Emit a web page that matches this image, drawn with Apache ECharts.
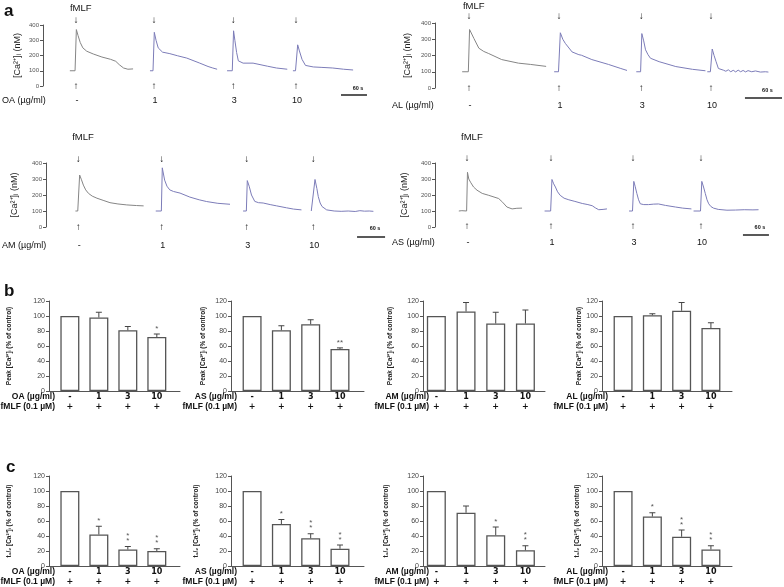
<!DOCTYPE html>
<html>
<head>
<meta charset="utf-8">
<script src="https://cdn.jsdelivr.net/npm/echarts@6/dist/echarts.min.js"></script>
<style>
html, body { margin: 0; padding: 0; background: #fff; }
#chart { width: 784px; height: 587px; }
</style>
</head>
<body>
<div id="chart"></div>
<script>
// ---- panel a: [Ca2+]i traces, [seconds after fMLF, nM] ----
var doses = ['-', '1', '3', '10'];
var traceNames = ['OA (µg/ml)', 'AL (µg/ml)', 'AM (µg/ml)', 'AS (µg/ml)'];

// fMLF injection time (s) of each trace on its panel time axis
var injOA = [76, 256, 439, 584];
var injAL = [55, 201, 334, 447];
var injAM = [69, 248, 430, 572];
var injAS = [74, 268, 457, 614];
// start (s) of the 60 s scale bar
var scaleStart = [688, 502, 666, 711];

var oa0 = [[-14,100],[-2,100],[1,370],[5,330],[10,285],[16,250],[25,228],[40,210],[60,190],[80,175],[92,162],[100,140],[110,118],[120,110],[132,112]];
var oa1 = [[-9,100],[-2,100],[1,352],[5,300],[10,250],[20,222],[37,212],[55,198],[76,183],[106,150],[125,128],[136,118],[146,110]];
var oa3 = [[-14,100],[-2,100],[1,362],[4,300],[8,220],[12,165],[23,150],[46,150],[79,130],[100,118],[125,110]];
var oa10 = [[-7,100],[-1,100],[4,270],[8,230],[14,175],[22,135],[40,125],[60,122],[85,118],[110,110],[132,105]];

var al0 = [[-11,100],[-1,100],[1,360],[8,305],[16,245],[24,225],[32,212],[53,175],[80,153],[100,145],[125,133]];
var al1 = [[-8,100],[-1,100],[2,340],[6,300],[10,275],[21,222],[32,205],[34,214],[36,202],[53,175],[80,145],[100,120],[110,108]];
var al3 = [[-8,100],[-1,100],[1,335],[4,290],[7,235],[11,205],[15,183],[29,162],[56,132],[83,115],[104,106]];
var al10 = [[-6,100],[-1,100],[2,240],[5,200],[8,165],[12,120],[15,108],[20,110],[24,103],[28,112],[32,100],[36,109],[40,99],[44,110],[48,100],[52,108],[56,99],[60,107],[66,100],[72,105],[80,98],[88,100],[93,98]];

var am0 = [[-6,100],[-1,100],[3,325],[7,295],[11,262],[16,232],[22,210],[30,193],[40,180],[55,165],[68,152],[85,144],[104,138],[125,134],[140,132]];
var am1 = [[-13,100],[-1,100],[1,370],[6,293],[11,255],[17,232],[25,222],[39,212],[60,187],[80,170],[96,159],[120,148],[146,142]];
var am3 = [[-8,100],[-1,100],[1,290],[5,255],[10,200],[17,160],[25,152],[35,150],[50,140],[64,132],[85,120],[100,112],[117,107]];
var am10 = [[-4,100],[0,100],[4,297],[8,240],[11,190],[15,150],[19,128],[29,107],[45,100],[60,98],[75,100],[90,97],[100,102],[110,99],[120,100],[129,98]];

var as0 = [[-19,100],[-12,102],[-1,100],[1,342],[4,300],[8,280],[15,250],[23,230],[35,210],[50,198],[73,178],[82,155],[92,125],[104,113],[115,117],[127,118]];
var as1 = [[-15,100],[-1,100],[2,297],[6,270],[10,250],[15,220],[21,198],[30,180],[41,170],[55,160],[72,147],[85,140],[95,133],[102,120],[110,108],[120,110],[129,113]];
var as3 = [[-9,100],[-1,100],[2,285],[5,255],[9,210],[13,170],[17,145],[25,140],[36,140],[48,143],[59,144],[75,135],[98,125],[115,118],[135,113]];
var as10 = [[-17,100],[-1,100],[2,285],[6,250],[10,210],[14,170],[18,145],[23,128],[29,118],[40,110],[60,105],[80,106],[100,108],[120,107],[133,108]];

// ---- panel b: peak [Ca2+]i (% of control), mean and SEM ----
var peakOA = [100, 98, 81, 72],   peakOAsem = [0, 7, 5, 4],   peakOAstar = ['', '', '', '*'];
var peakAS = [100, 81, 89, 56],   peakASsem = [0, 6, 6, 1.5], peakASstar = ['', '', '', '**'];
var peakAM = [100, 106, 90, 90],  peakAMsem = [0, 12, 15, 18], peakAMstar = ['', '', '', ''];
var peakAL = [100, 101, 107, 84], peakALsem = [0, 2, 11, 7],  peakALstar = ['', '', '', ''];

// ---- panel c: t1/2 [Ca2+]i (% of control) ----
var halfOA = [100, 42, 22, 20], halfOAsem = [0, 11, 4, 3],   halfOAstar = ['', '*', '**', '**'];
var halfAS = [100, 56, 37, 23], halfASsem = [0, 6, 6, 5],    halfASstar = ['', '*', '**', '**'];
var halfAM = [100, 71, 41, 21], halfAMsem = [0, 9, 11, 6],   halfAMstar = ['', '', '*', '**'];
var halfAL = [100, 66, 39, 22], halfALsem = [0, 5, 9, 5],    halfALstar = ['', '*', '**', '**'];

var FONT = 'Liberation Sans, Arial, sans-serif';
var BOLD = 'DejaVu Sans, Liberation Sans, sans-serif';

var chart = echarts.init(document.getElementById('chart'));

var traceSets = [
  { inj: injOA, lines: [oa0, oa1, oa3, oa10] },
  { inj: injAL, lines: [al0, al1, al3, al10] },
  { inj: injAM, lines: [am0, am1, am3, am10] },
  { inj: injAS, lines: [as0, as1, as3, as10] }
];
var traceLayout = [
  { left: 43,  top: 25,  height: 61, width: 340, max: 785, gap: 21, nameX: 2,   downY: 20,  upY: 86,  labY: 101, fmlfY: 8,   barY: 95,  sbY: 88 },
  { left: 435, top: 23,  height: 65, width: 347, max: 562, gap: 23, nameX: 392, downY: 16,  upY: 88,  labY: 106, fmlfY: 6,   barY: 98,  sbY: 90 },
  { left: 46,  top: 163, height: 64, width: 340, max: 728, gap: 27, nameX: 2,   downY: 159, upY: 227, labY: 246, fmlfY: 137, barY: 237, sbY: 228 },
  { left: 435, top: 163, height: 64, width: 340, max: 785, gap: 26, nameX: 392, downY: 158, upY: 226, labY: 243, fmlfY: 137, barY: 235, sbY: 227 }
];

var barSets = [
  { v: peakOA, e: peakOAsem, s: peakOAstar, drug: 'OA (µg/ml)' },
  { v: peakAS, e: peakASsem, s: peakASstar, drug: 'AS (µg/ml)' },
  { v: peakAM, e: peakAMsem, s: peakAMstar, drug: 'AM (µg/ml)' },
  { v: peakAL, e: peakALsem, s: peakALstar, drug: 'AL (µg/ml)' },
  { v: halfOA, e: halfOAsem, s: halfOAstar, drug: 'OA (µg/ml)' },
  { v: halfAS, e: halfASsem, s: halfASstar, drug: 'AS (µg/ml)' },
  { v: halfAM, e: halfAMsem, s: halfAMstar, drug: 'AM (µg/ml)' },
  { v: halfAL, e: halfALsem, s: halfALstar, drug: 'AL (µg/ml)' }
];
var barCols = [
  { left: 49,  width: 131, min: -0.72, max: 3.8 },
  { left: 231, width: 133, min: -0.72, max: 3.82 },
  { left: 423, width: 122, min: -0.45, max: 3.66 },
  { left: 602, width: 130, min: -0.72, max: 3.72 }
];
var bGaps = [36, 24, 29, 19];
var cGaps = [36, 31, 33, 21];

var grids = [], xAxes = [], yAxes = [], series = [];

traceLayout.forEach(function (L, p) {
  grids.push({ left: L.left, top: L.top, width: L.width, height: L.height });
  xAxes.push({ gridIndex: p, type: 'value', min: 0, max: L.max, show: false });
  yAxes.push({
    gridIndex: p, type: 'value', min: 0, max: 400, interval: 100,
    name: '[Ca²⁺]ᵢ (nM)', nameLocation: 'middle', nameGap: L.gap,
    nameTextStyle: { fontSize: 9, color: '#222', fontFamily: FONT },
    axisLine: { show: true, onZero: false, lineStyle: { color: '#555', width: 1 } },
    axisTick: { show: true, length: 3, lineStyle: { color: '#555' } },
    axisLabel: { fontSize: 6, color: '#555', margin: 4, fontFamily: FONT },
    splitLine: { show: false }
  });
  var set = traceSets[p];
  set.lines.forEach(function (tr, i) {
    series.push({
      type: 'line', xAxisIndex: p, yAxisIndex: p, showSymbol: false, silent: true,
      data: tr.map(function (d) { return [set.inj[i] + d[0], d[1]]; }),
      lineStyle: { width: 1, color: i === 0 ? '#858585' : '#7c7cb8' }
    });
  });
});

function errRender(set) {
  var stacked = set.stacked;
  return function (params, api) {
    var i = params.dataIndex;
    var x = api.value(0);
    var base = api.coord([x, 0]);
    var bar = api.coord([x, set.v[i]]);
    var top = api.coord([x, set.v[i] + set.e[i]]);
    var kids = [];
    if (set.e[i] > 0) {
      kids.push({ type: 'line', shape: { x1: top[0], y1: bar[1], x2: top[0], y2: top[1] }, style: { stroke: '#444', lineWidth: 1 } });
      kids.push({ type: 'line', shape: { x1: top[0] - 3, y1: top[1], x2: top[0] + 3, y2: top[1] }, style: { stroke: '#444', lineWidth: 1 } });
    }
    if (set.s[i]) {
      kids.push({ type: 'text', x: top[0], y: top[1] - 3, style: {
        text: stacked ? set.s[i].split('').join('\n') : set.s[i],
        fill: '#555', font: '8px ' + FONT, lineHeight: 5,
        align: 'center', verticalAlign: 'bottom', textAlign: 'center', textVerticalAlign: 'bottom' } });
    }
    kids.push({ type: 'text', x: base[0], y: base[1] + 6, style: {
      text: doses[i], fill: '#111', font: 'bold 8px ' + BOLD,
      align: 'center', verticalAlign: 'middle', textAlign: 'center', textVerticalAlign: 'middle' } });
    kids.push({ type: 'text', x: base[0], y: base[1] + 16, style: {
      text: '+', fill: '#111', font: 'bold 8px ' + BOLD,
      align: 'center', verticalAlign: 'middle', textAlign: 'center', textVerticalAlign: 'middle' } });
    return { type: 'group', children: kids };
  };
}

barSets.forEach(function (set, k) {
  var row = k < 4 ? 0 : 1;
  var col = barCols[k % 4];
  var g = 4 + k;
  set.stacked = row === 1;
  grids.push({ left: col.left, top: row === 0 ? 301 : 476, width: col.width, height: 90 });
  xAxes.push({
    gridIndex: g, type: 'value', min: col.min, max: col.max,
    axisLine: { show: true, onZero: false, lineStyle: { color: '#555', width: 1 } },
    axisTick: { show: false }, axisLabel: { show: false }, splitLine: { show: false }
  });
  yAxes.push({
    gridIndex: g, type: 'value', min: 0, max: 120, interval: 20,
    name: row === 0 ? 'Peak [Ca²⁺]ᵢ (% of control)' : 't₁/₂ [Ca²⁺]ᵢ (% of control)',
    nameLocation: 'middle', nameGap: row === 0 ? bGaps[k % 4] : cGaps[k % 4],
    nameTextStyle: { fontSize: 6.5, fontWeight: 'bold', color: '#222', fontFamily: FONT },
    axisLine: { show: true, onZero: false, lineStyle: { color: '#555', width: 1 } },
    axisTick: { show: true, length: 3, lineStyle: { color: '#555' } },
    axisLabel: { fontSize: 7, color: '#444', margin: 4, fontFamily: FONT },
    splitLine: { show: false }
  });
  var pts = set.v.map(function (v, i) { return [i, v]; });
  series.push({
    type: 'bar', xAxisIndex: g, yAxisIndex: g, barWidth: 19, silent: true, data: pts,
    itemStyle: { color: '#fff', borderColor: '#555', borderWidth: 1.3 }
  });
  series.push({
    type: 'custom', xAxisIndex: g, yAxisIndex: g, silent: true, clip: false, z: 5,
    data: pts, renderItem: errRender(set)
  });
});

chart.setOption({
  animation: false,
  grid: grids, xAxis: xAxes, yAxis: yAxes, series: series
});

// annotations placed through the axes
function txt(x, y, s, font, align, color) {
  return { type: 'text', x: x, y: y, silent: true, style: {
    text: s, font: font, fill: color || '#111',
    align: align || 'center', verticalAlign: 'middle', textAlign: align || 'center', textVerticalAlign: 'middle' } };
}
var gr = [];
gr.push(txt(4, 11, 'a', 'bold 17px ' + FONT, 'left'));
gr.push(txt(4, 291, 'b', 'bold 17px ' + FONT, 'left'));
gr.push(txt(6, 467, 'c', 'bold 17px ' + FONT, 'left'));

traceLayout.forEach(function (L, p) {
  var inj = traceSets[p].inj;
  inj.forEach(function (t, i) {
    var x = chart.convertToPixel({ gridIndex: p }, [t, 0])[0];
    gr.push(txt(x, L.downY, '↓', '10px ' + FONT));
    gr.push(txt(x, L.upY, '↑', '10px ' + FONT));
    gr.push(txt(x + 1, L.labY, doses[i], '9px ' + FONT));
    if (i === 0) gr.push(txt(x - 6, L.fmlfY, 'fMLF', '9.5px ' + FONT, 'left'));
  });
  gr.push(txt(L.nameX, L.labY, traceNames[p], '9px ' + FONT, 'left'));
  var x1 = chart.convertToPixel({ gridIndex: p }, [scaleStart[p], 0])[0];
  var x2 = chart.convertToPixel({ gridIndex: p }, [scaleStart[p] + 60, 0])[0];
  gr.push({ type: 'line', silent: true, shape: { x1: x1, y1: L.barY, x2: x2, y2: L.barY }, style: { stroke: '#222', lineWidth: 1.5 } });
  gr.push(txt((x1 + x2) / 2 + 4, L.sbY, '60 s', 'bold 5.5px ' + FONT));
});

barSets.forEach(function (set, k) {
  var y0 = k < 4 ? 391 : 566;
  var x = barCols[k % 4].left + 6;
  gr.push(txt(x, y0 + 6, set.drug, 'bold 8.5px ' + FONT, 'right'));
  gr.push(txt(x, y0 + 16, 'fMLF (0.1 µM)', 'bold 8.5px ' + FONT, 'right'));
});

chart.setOption({ graphic: gr });
</script>
</body>
</html>
